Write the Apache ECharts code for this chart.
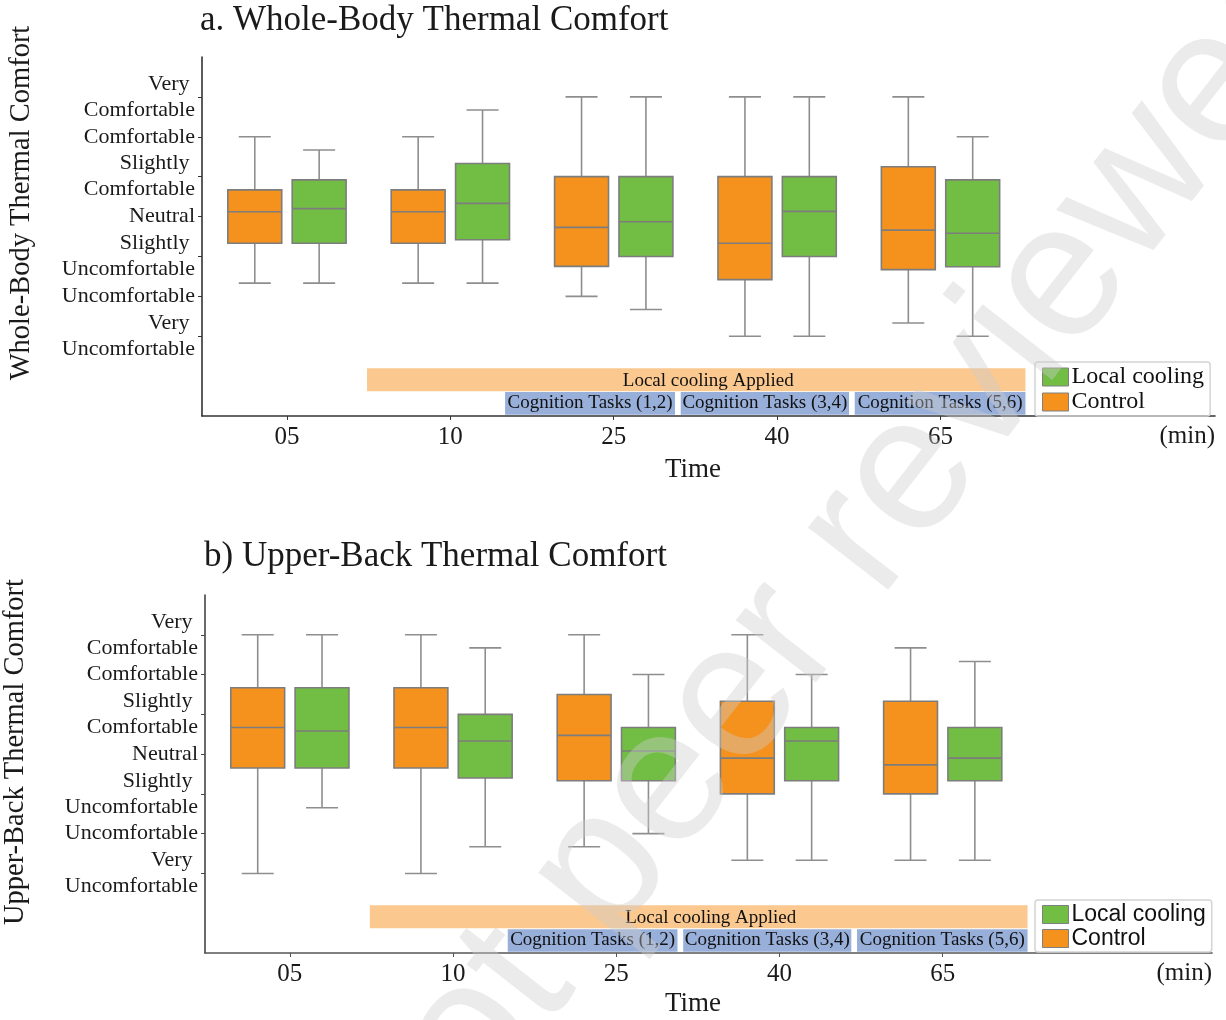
<!DOCTYPE html>
<html>
<head>
<meta charset="utf-8">
<script src="https://cdn.jsdelivr.net/npm/echarts@6/dist/echarts.min.js"></script>
<style>
html,body{margin:0;padding:0;background:#fff;}
#chart{width:1226px;height:1020px;}
</style>
</head>
<body>
<div id="chart"></div>
<script>
// ---------- data ----------
const timeLabels = ['05', '10', '25', '40', '65'];
// comfort scale -3 .. 3
const comfortLabels = ['Very \nUncomfortable', 'Uncomfortable', 'Slightly \nUncomfortable', 'Neutral', 'Slightly \nComfortable', 'Comfortable', 'Very \nComfortable'];
const comfortValues = [-3, -2, -1, 0, 1, 2, 3];

// each box: [min, Q1, median, Q3, max]
const wholeBodyControl = [
  [-1.67, -0.67, 0.12, 0.67, 2],
  [-1.67, -0.67, 0.12, 0.67, 2],
  [-2, -1.25, -0.27, 1, 3],
  [-3, -1.58, -0.67, 1, 3],
  [-2.67, -1.33, -0.34, 1.25, 3]
];
const wholeBodyCooling = [
  [-1.67, -0.67, 0.2, 0.92, 1.67],
  [-1.67, -0.58, 0.33, 1.33, 2.67],
  [-2.33, -1, -0.13, 1, 3],
  [-3, -1, 0.13, 1, 3],
  [-3, -1.26, -0.42, 0.92, 2]
];
const upperBackControl = [
  [-3, -0.35, 0.67, 1.67, 3],
  [-3, -0.35, 0.67, 1.67, 3],
  [-2.33, -0.67, 0.47, 1.5, 3],
  [-2.67, -1, -0.1, 1.33, 3],
  [-2.67, -1, -0.27, 1.33, 2.67]
];
const upperBackCooling = [
  [-1.35, -0.35, 0.58, 1.67, 3],
  [-2.33, -0.6, 0.33, 1, 2.67],
  [-2, -0.67, 0.08, 0.67, 2],
  [-2.67, -0.67, 0.33, 0.67, 2],
  [-2.67, -0.67, -0.1, 0.67, 2.33]
];

// annotation periods on the time (category index) scale
const coolingPeriod = { name: 'Local cooling Applied', from: 0.49, to: 4.52 };
const taskPeriods = [
  { name: 'Cognition Tasks (1,2)', from: 1.335, to: 2.375 },
  { name: 'Cognition Tasks (3,4)', from: 2.41, to: 3.44 },
  { name: 'Cognition Tasks (5,6)', from: 3.475, to: 4.52 }
];
const coolingBand = [-3.8, -4.38];
const taskBand = [-4.4, -4.97];

// ---------- styling ----------
const SERIF = 'Liberation Serif';
const SANS = 'Liberation Sans';
const COL_CONTROL = '#F5921E';
const COL_COOL = '#72BE44';
const COL_EDGE = '#7d7d7d';
const COL_WHISK = '#8e8e8e';

function toData(arr) { return arr.map((d, i) => [i].concat(d)); }

function makeRender(side) {
  return function (params, api) {
    const x = api.value(0);
    const unit = api.size([1, 0])[0];
    const cx = api.coord([x, 0])[0] + side * unit * 0.197;
    const bw = unit * 0.33;
    const cw = unit * 0.196;
    const yMin = api.coord([x, api.value(1)])[1];
    const yQ1 = api.coord([x, api.value(2)])[1];
    const yMed = api.coord([x, api.value(3)])[1];
    const yQ3 = api.coord([x, api.value(4)])[1];
    const yMax = api.coord([x, api.value(5)])[1];
    const wl = { stroke: COL_WHISK, lineWidth: 1.6 };
    return {
      type: 'group',
      children: [
        { type: 'line', shape: { x1: cx, y1: yMax, x2: cx, y2: yQ3 }, style: wl },
        { type: 'line', shape: { x1: cx, y1: yQ1, x2: cx, y2: yMin }, style: wl },
        { type: 'line', shape: { x1: cx - cw / 2, y1: yMax, x2: cx + cw / 2, y2: yMax }, style: wl },
        { type: 'line', shape: { x1: cx - cw / 2, y1: yMin, x2: cx + cw / 2, y2: yMin }, style: wl },
        { type: 'rect', shape: { x: cx - bw / 2, y: yQ3, width: bw, height: yQ1 - yQ3 },
          style: { fill: api.visual('color'), stroke: COL_EDGE, lineWidth: 1.6 } },
        { type: 'line', shape: { x1: cx - bw / 2, y1: yMed, x2: cx + bw / 2, y2: yMed },
          style: { stroke: COL_EDGE, lineWidth: 1.6 } }
      ]
    };
  };
}

function annotations(fontFamily) {
  const lab = { show: true, position: 'inside', color: '#111', fontFamily: fontFamily, fontSize: 19 };
  const data = [[
    { xAxis: coolingPeriod.from, yAxis: coolingBand[0], name: coolingPeriod.name,
      itemStyle: { color: '#FBC98F' }, label: Object.assign({}, lab, { offset: [12, 1] }) },
    { xAxis: coolingPeriod.to, yAxis: coolingBand[1] }
  ]];
  taskPeriods.forEach(t => {
    data.push([
      { xAxis: t.from, yAxis: taskBand[0], name: t.name, itemStyle: { color: '#98AFDA' }, label: lab },
      { xAxis: t.to, yAxis: taskBand[1] }
    ]);
  });
  return { silent: true, data: data };
}

function xAxisCfg(gridIndex, max, lineColor) {
  return {
    type: 'value', gridIndex: gridIndex, min: -0.52, max: max,
    splitLine: { show: false },
    axisLine: { show: true, onZero: false, lineStyle: { color: lineColor, width: 1.6 } },
    axisTick: { show: true, customValues: [0, 1, 2, 3, 4], length: 4, lineStyle: { color: lineColor } },
    axisLabel: {
      customValues: [0, 1, 2, 3, 4],
      formatter: v => timeLabels[Math.round(v)],
      fontFamily: SERIF, fontSize: 25, color: '#1a1a1a', margin: 9
    },
    name: '(min)', nameLocation: 'end', nameGap: 0,
    nameTextStyle: { fontFamily: SERIF, fontSize: 25, color: '#1a1a1a', align: 'right', verticalAlign: 'top', padding: [8, 0, 0, 0] }
  };
}

function yAxisCfg(gridIndex, lineColor) {
  return {
    type: 'value', gridIndex: gridIndex, min: -5, max: 4, interval: 1,
    splitLine: { show: false },
    axisLine: { show: true, onZero: false, lineStyle: { color: lineColor, width: 1.6 } },
    axisTick: { show: true, customValues: comfortValues, length: 4, lineStyle: { color: lineColor } },
    axisLabel: {
      customValues: comfortValues,
      formatter: v => comfortLabels[Math.round(v) + 3],
      fontFamily: SERIF, fontSize: 22, lineHeight: 26, color: '#1a1a1a', margin: 7, align: 'right'
    }
  };
}

function legendCfg(top, fontFamily, fontSize) {
  return {
    left: 1035, top: top, orient: 'vertical', data: ['Local cooling', 'Control'],
    icon: 'rect', itemWidth: 26, itemHeight: 18, itemGap: 1,
    padding: [3, 6, 2, 7],
    borderColor: '#d4d4d4', borderWidth: 1.5, borderRadius: 3,
    selectedMode: false,
    itemStyle: { borderColor: '#808080', borderWidth: 1 },
    textStyle: { fontFamily: fontFamily, fontSize: fontSize, color: '#111', padding: [0, 0, 0, -2] }
  };
}

function txt(x, y, text, size, opts) {
  return {
    type: 'text', x: x, y: y, silent: true,
    style: Object.assign({ text: text, fontFamily: SERIF, fontSize: size, fill: '#1a1a1a', textAlign: 'left', textVerticalAlign: 'top' }, opts || {})
  };
}

const option = {
  animation: false,
  backgroundColor: '#ffffff',
  grid: [
    { left: 202, top: 57, width: 1013, height: 359, outerBoundsMode: 'none' },
    { left: 205, top: 595, width: 1007, height: 358, outerBoundsMode: 'none' }
  ],
  xAxis: [xAxisCfg(0, 5.68, '#333'), xAxisCfg(1, 5.65, '#555')],
  yAxis: [yAxisCfg(0, '#333'), yAxisCfg(1, '#444')],
  legend: [legendCfg(362, SERIF, 24), legendCfg(900, SANS, 23)],
  series: [
    { type: 'custom', name: 'Control', xAxisIndex: 0, yAxisIndex: 0, itemStyle: { color: COL_CONTROL },
      renderItem: makeRender(-1), encode: { x: 0, y: [1, 2, 3, 4, 5] }, data: toData(wholeBodyControl),
      markArea: annotations(SERIF), z: 3 },
    { type: 'custom', name: 'Local cooling', xAxisIndex: 0, yAxisIndex: 0, itemStyle: { color: COL_COOL },
      renderItem: makeRender(1), encode: { x: 0, y: [1, 2, 3, 4, 5] }, data: toData(wholeBodyCooling), z: 3 },
    { type: 'custom', name: 'Control', xAxisIndex: 1, yAxisIndex: 1, itemStyle: { color: COL_CONTROL },
      renderItem: makeRender(-1), encode: { x: 0, y: [1, 2, 3, 4, 5] }, data: toData(upperBackControl),
      markArea: annotations(SERIF), z: 3 },
    { type: 'custom', name: 'Local cooling', xAxisIndex: 1, yAxisIndex: 1, itemStyle: { color: COL_COOL },
      renderItem: makeRender(1), encode: { x: 0, y: [1, 2, 3, 4, 5] }, data: toData(upperBackCooling), z: 3 }
  ],
  graphic: [
    txt(200, 3, 'a. Whole-Body Thermal Comfort', 35),
    txt(204, 539, 'b) Upper-Back Thermal Comfort', 35),
    txt(693, 470, 'Time', 27, { textAlign: 'center', textVerticalAlign: 'middle' }),
    txt(693, 1004, 'Time', 27, { textAlign: 'center', textVerticalAlign: 'middle' }),
    Object.assign(txt(22, 203, 'Whole-Body Thermal Comfort', 28.5, { textAlign: 'center', textVerticalAlign: 'middle' }), { rotation: Math.PI / 2 }),
    Object.assign(txt(16, 752, 'Upper-Back Thermal Comfort', 28.5, { textAlign: 'center', textVerticalAlign: 'middle' }), { rotation: Math.PI / 2 }),
    { type: 'text', x: 352, y: 1190, rotation: 52 * Math.PI / 180, silent: true, z: 100,
      style: { text: 'Not peer reviewed', fontFamily: SANS, fontSize: 192, fill: 'rgba(205,205,205,0.4)', textAlign: 'left', textVerticalAlign: 'middle' } }
  ]
};

const chart = echarts.init(document.getElementById('chart'), null, { renderer: 'canvas' });
chart.setOption(option);
</script>
</body>
</html>
